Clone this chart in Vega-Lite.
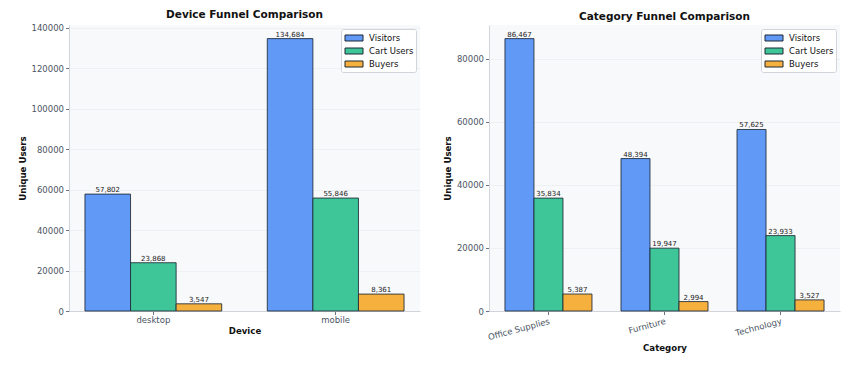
{
  "$schema": "https://vega.github.io/schema/vega-lite/v6.json",
  "background": "#ffffff",
  "padding": {"left": 18, "top": 10, "right": 10, "bottom": 5},
  "spacing": 23,
  "config": {
    "font": "DejaVu Sans",
    "view": {"fill": "#f8f9fa", "stroke": null},
    "title": {"fontSize": 10.5, "fontWeight": "bold", "color": "#111111", "offset": 3, "anchor": "middle"},
    "axis": {
      "labelFont": "DejaVu Sans", "labelFontSize": 8.5, "labelColor": "#4b5563",
      "titleFont": "DejaVu Sans", "titleFontSize": 8.6, "titleFontWeight": "bold", "titleColor": "#111111",
      "domainColor": "#d1d5db", "tickColor": "#6b7280", "tickSize": 3.5,
      "gridColor": "#eceef1", "gridWidth": 0.8
    },
    "legend": {
      "orient": "top-right", "offset": 4, "fillColor": "#ffffff", "strokeColor": "#d1d5db",
      "cornerRadius": 2, "padding": 2.5, "labelFontSize": 8.5, "labelColor": "#111111",
      "labelFont": "DejaVu Sans", "symbolType": "M-1.5,-0.5H1.5V0.5H-1.5Z", "symbolSize": 144,
      "symbolOffset": 4,
      "symbolStrokeColor": "#1f2937", "symbolStrokeWidth": 1, "rowPadding": 1, "labelOffset": 8.5, "title": null
    }
  },
  "resolve": {"scale": {"color": "independent", "xOffset": "independent"}, "legend": {"color": "independent"}},
  "hconcat": [
    {
      "width": 351, "height": 286,
      "title": "Device Funnel Comparison",
      "data": {"values": [
        {"device": "desktop", "stage": "Visitors", "users": 57802},
        {"device": "desktop", "stage": "Cart Users", "users": 23868},
        {"device": "desktop", "stage": "Buyers", "users": 3547},
        {"device": "mobile", "stage": "Visitors", "users": 134684},
        {"device": "mobile", "stage": "Cart Users", "users": 55846},
        {"device": "mobile", "stage": "Buyers", "users": 8361}
      ]},
      "encoding": {
        "x": {"field": "device", "type": "nominal", "sort": ["desktop", "mobile"],
              "scale": {"paddingInner": 0.25, "paddingOuter": 0.0875},
              "axis": {"title": "Device", "labelAngle": 0, "bandPosition": 0.5, "titlePadding": 2, "labelPadding": 1}},
        "xOffset": {"field": "stage", "type": "nominal", "sort": ["Visitors", "Cart Users", "Buyers"],
                    "scale": {"paddingInner": 0, "paddingOuter": 0}},
        "y": {"field": "users", "type": "quantitative",
              "scale": {"domain": [0, 141418], "nice": false},
              "axis": {"title": "Unique Users", "values": [0, 20000, 40000, 60000, 80000, 100000, 120000, 140000], "format": "d", "titlePadding": 4, "labelPadding": 2}}
      },
      "layer": [
        {
          "mark": {"type": "bar", "stroke": "#1f2937", "strokeWidth": 1, "strokeOpacity": 0.85},
          "encoding": {
            "color": {"field": "stage", "type": "nominal", "sort": ["Visitors", "Cart Users", "Buyers"],
                      "scale": {"domain": ["Visitors", "Cart Users", "Buyers"], "range": ["#6099f6", "#3ec698", "#f6b03d"]}}
          }
        },
        {
          "mark": {"type": "text", "baseline": "bottom", "dy": -1, "fontSize": 7, "color": "#222222"},
          "encoding": {"text": {"field": "users", "type": "quantitative", "format": ","}}
        }
      ]
    },
    {
      "width": 351, "height": 286,
      "title": "Category Funnel Comparison",
      "data": {"values": [
        {"category": "Office Supplies", "stage": "Visitors", "users": 86467},
        {"category": "Office Supplies", "stage": "Cart Users", "users": 35834},
        {"category": "Office Supplies", "stage": "Buyers", "users": 5387},
        {"category": "Furniture", "stage": "Visitors", "users": 48394},
        {"category": "Furniture", "stage": "Cart Users", "users": 19947},
        {"category": "Furniture", "stage": "Buyers", "users": 2994},
        {"category": "Technology", "stage": "Visitors", "users": 57625},
        {"category": "Technology", "stage": "Cart Users", "users": 23933},
        {"category": "Technology", "stage": "Buyers", "users": 3527}
      ]},
      "encoding": {
        "x": {"field": "category", "type": "nominal", "sort": ["Office Supplies", "Furniture", "Technology"],
              "scale": {"paddingInner": 0.25, "paddingOuter": 0.1375},
              "axis": {"title": "Category", "labelAngle": -15, "labelAlign": "right", "labelBaseline": "top", "bandPosition": 0.5, "titlePadding": 2, "labelPadding": 2}},
        "xOffset": {"field": "stage", "type": "nominal", "sort": ["Visitors", "Cart Users", "Buyers"],
                    "scale": {"paddingInner": 0, "paddingOuter": 0}},
        "y": {"field": "users", "type": "quantitative",
              "scale": {"domain": [0, 90790], "nice": false},
              "axis": {"title": "Unique Users", "values": [0, 20000, 40000, 60000, 80000], "format": "d", "titlePadding": 4, "labelPadding": 2}}
      },
      "layer": [
        {
          "mark": {"type": "bar", "stroke": "#1f2937", "strokeWidth": 1, "strokeOpacity": 0.85},
          "encoding": {
            "color": {"field": "stage", "type": "nominal", "sort": ["Visitors", "Cart Users", "Buyers"],
                      "scale": {"domain": ["Visitors", "Cart Users", "Buyers"], "range": ["#6099f6", "#3ec698", "#f6b03d"]}}
          }
        },
        {
          "mark": {"type": "text", "baseline": "bottom", "dy": -1, "fontSize": 7, "color": "#222222"},
          "encoding": {"text": {"field": "users", "type": "quantitative", "format": ","}}
        }
      ]
    }
  ]
}
